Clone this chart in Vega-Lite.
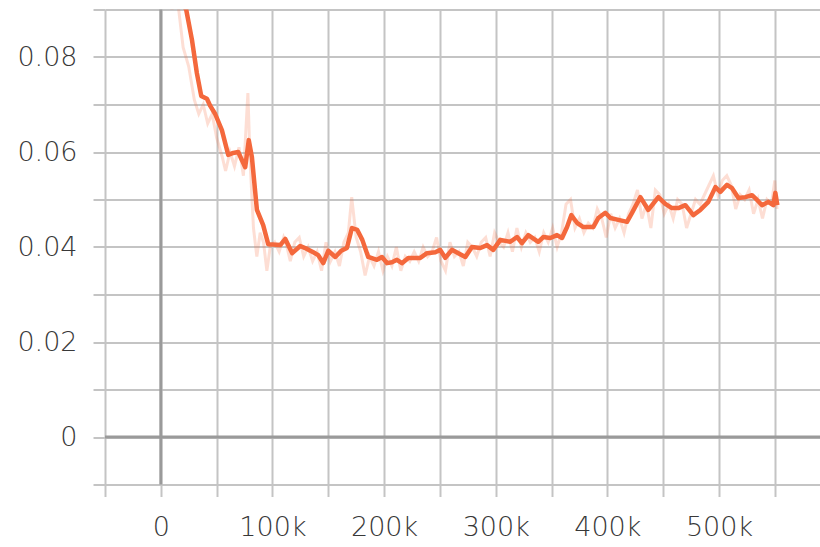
{
  "$schema": "https://vega.github.io/schema/vega-lite/v6.json",
  "autosize": {"type": "none"},
  "width": 715,
  "height": 475,
  "padding": {"left": 105, "top": 9.5, "right": 0, "bottom": 62.5},
  "background": "#ffffff",
  "config": {
    "view": {"stroke": null},
    "axis": {
      "domain": false,
      "gridColor": "#c4c4c4",
      "gridWidth": 2,
      "gridOpacity": 1,
      "tickColor": "#c4c4c4",
      "tickWidth": 2,
      "tickSize": 12,
      "labelFont": "DejaVu Sans",
      "labelFontWeight": 200,
      "labelFontSize": 27,
      "labelColor": "#383838",
      "title": null
    }
  },
  "datasets": {
    "raw": [
      {"step": 5000, "value": 0.098}, {"step": 10000, "value": 0.090}, {"step": 14000, "value": 0.094},
      {"step": 20000, "value": 0.082}, {"step": 25000, "value": 0.078}, {"step": 30000, "value": 0.071},
      {"step": 34000, "value": 0.068}, {"step": 38000, "value": 0.070}, {"step": 42000, "value": 0.066},
      {"step": 46000, "value": 0.068}, {"step": 50000, "value": 0.063}, {"step": 55000, "value": 0.059},
      {"step": 58000, "value": 0.056}, {"step": 62000, "value": 0.060}, {"step": 66000, "value": 0.057},
      {"step": 70000, "value": 0.061}, {"step": 74000, "value": 0.055}, {"step": 78000, "value": 0.0724},
      {"step": 80000, "value": 0.058}, {"step": 83000, "value": 0.044}, {"step": 86000, "value": 0.038},
      {"step": 89000, "value": 0.043}, {"step": 92000, "value": 0.041}, {"step": 95000, "value": 0.035},
      {"step": 98000, "value": 0.040}, {"step": 102000, "value": 0.041}, {"step": 106000, "value": 0.039},
      {"step": 110000, "value": 0.042}, {"step": 113000, "value": 0.040}, {"step": 116000, "value": 0.037},
      {"step": 120000, "value": 0.041}, {"step": 124000, "value": 0.042}, {"step": 128000, "value": 0.038},
      {"step": 132000, "value": 0.040}, {"step": 136000, "value": 0.037}, {"step": 140000, "value": 0.039},
      {"step": 144000, "value": 0.035}, {"step": 148000, "value": 0.041}, {"step": 152000, "value": 0.037},
      {"step": 156000, "value": 0.039}, {"step": 160000, "value": 0.036}, {"step": 164000, "value": 0.041},
      {"step": 168000, "value": 0.043}, {"step": 171000, "value": 0.0505}, {"step": 175000, "value": 0.042},
      {"step": 179000, "value": 0.039}, {"step": 183000, "value": 0.034}, {"step": 187000, "value": 0.038},
      {"step": 191000, "value": 0.036}, {"step": 195000, "value": 0.039}, {"step": 199000, "value": 0.035},
      {"step": 203000, "value": 0.038}, {"step": 207000, "value": 0.036}, {"step": 211000, "value": 0.040},
      {"step": 215000, "value": 0.035}, {"step": 219000, "value": 0.038}, {"step": 223000, "value": 0.037},
      {"step": 227000, "value": 0.039}, {"step": 231000, "value": 0.037}, {"step": 235000, "value": 0.040},
      {"step": 239000, "value": 0.038}, {"step": 243000, "value": 0.039}, {"step": 247000, "value": 0.042},
      {"step": 251000, "value": 0.037}, {"step": 255000, "value": 0.035}, {"step": 259000, "value": 0.041},
      {"step": 263000, "value": 0.038}, {"step": 267000, "value": 0.039}, {"step": 271000, "value": 0.036},
      {"step": 275000, "value": 0.041}, {"step": 279000, "value": 0.040}, {"step": 283000, "value": 0.038},
      {"step": 287000, "value": 0.041}, {"step": 291000, "value": 0.042}, {"step": 295000, "value": 0.038},
      {"step": 299000, "value": 0.043}, {"step": 303000, "value": 0.041}, {"step": 307000, "value": 0.040},
      {"step": 311000, "value": 0.043}, {"step": 315000, "value": 0.039}, {"step": 319000, "value": 0.044},
      {"step": 323000, "value": 0.040}, {"step": 327000, "value": 0.043}, {"step": 331000, "value": 0.041},
      {"step": 335000, "value": 0.042}, {"step": 339000, "value": 0.039}, {"step": 343000, "value": 0.043},
      {"step": 347000, "value": 0.041}, {"step": 351000, "value": 0.044}, {"step": 355000, "value": 0.040},
      {"step": 359000, "value": 0.043}, {"step": 363000, "value": 0.049}, {"step": 367000, "value": 0.050},
      {"step": 371000, "value": 0.044}, {"step": 375000, "value": 0.046}, {"step": 379000, "value": 0.043},
      {"step": 383000, "value": 0.045}, {"step": 387000, "value": 0.044}, {"step": 391000, "value": 0.048},
      {"step": 395000, "value": 0.046}, {"step": 399000, "value": 0.042}, {"step": 403000, "value": 0.047},
      {"step": 407000, "value": 0.044}, {"step": 411000, "value": 0.046}, {"step": 415000, "value": 0.043},
      {"step": 419000, "value": 0.047}, {"step": 423000, "value": 0.049}, {"step": 427000, "value": 0.052},
      {"step": 431000, "value": 0.046}, {"step": 435000, "value": 0.049}, {"step": 439000, "value": 0.044},
      {"step": 443000, "value": 0.052}, {"step": 447000, "value": 0.051}, {"step": 451000, "value": 0.047},
      {"step": 455000, "value": 0.049}, {"step": 459000, "value": 0.046}, {"step": 463000, "value": 0.050},
      {"step": 467000, "value": 0.049}, {"step": 471000, "value": 0.044}, {"step": 475000, "value": 0.047},
      {"step": 479000, "value": 0.050}, {"step": 483000, "value": 0.049}, {"step": 487000, "value": 0.051},
      {"step": 491000, "value": 0.053}, {"step": 495000, "value": 0.055}, {"step": 499000, "value": 0.051},
      {"step": 503000, "value": 0.054}, {"step": 507000, "value": 0.055}, {"step": 511000, "value": 0.053},
      {"step": 515000, "value": 0.048}, {"step": 519000, "value": 0.051}, {"step": 523000, "value": 0.050},
      {"step": 527000, "value": 0.052}, {"step": 531000, "value": 0.047}, {"step": 535000, "value": 0.050},
      {"step": 539000, "value": 0.046}, {"step": 543000, "value": 0.050}, {"step": 547000, "value": 0.049},
      {"step": 550000, "value": 0.054}, {"step": 552000, "value": 0.048}
    ],
    "smoothed": [
      {"step": 10200, "value": 0.0952}, {"step": 22800, "value": 0.0899}, {"step": 27900, "value": 0.0836},
      {"step": 32300, "value": 0.0766}, {"step": 36200, "value": 0.0718}, {"step": 41300, "value": 0.0712},
      {"step": 44300, "value": 0.0697}, {"step": 48700, "value": 0.0680}, {"step": 54700, "value": 0.0646},
      {"step": 60400, "value": 0.0594}, {"step": 64900, "value": 0.0598}, {"step": 69300, "value": 0.0600},
      {"step": 75600, "value": 0.0568}, {"step": 78800, "value": 0.0625}, {"step": 81600, "value": 0.0589},
      {"step": 86100, "value": 0.0478}, {"step": 91700, "value": 0.0446}, {"step": 96200, "value": 0.0406},
      {"step": 107000, "value": 0.0404}, {"step": 111500, "value": 0.0417}, {"step": 117700, "value": 0.0387},
      {"step": 124900, "value": 0.0402}, {"step": 130900, "value": 0.0396}, {"step": 136600, "value": 0.0389},
      {"step": 141000, "value": 0.0383}, {"step": 145500, "value": 0.0366}, {"step": 150000, "value": 0.0392},
      {"step": 156300, "value": 0.0379}, {"step": 161600, "value": 0.0392}, {"step": 166700, "value": 0.0398},
      {"step": 171200, "value": 0.0440}, {"step": 176000, "value": 0.0436}, {"step": 180500, "value": 0.0415},
      {"step": 185800, "value": 0.0379}, {"step": 193600, "value": 0.0373}, {"step": 198100, "value": 0.0379},
      {"step": 202600, "value": 0.0366}, {"step": 207100, "value": 0.0368}, {"step": 211500, "value": 0.0373},
      {"step": 216000, "value": 0.0366}, {"step": 221700, "value": 0.0377}, {"step": 232400, "value": 0.0377},
      {"step": 238400, "value": 0.0387}, {"step": 245900, "value": 0.0389}, {"step": 250300, "value": 0.0394},
      {"step": 254800, "value": 0.0377}, {"step": 260800, "value": 0.0394}, {"step": 266500, "value": 0.0387},
      {"step": 272800, "value": 0.0379}, {"step": 278700, "value": 0.0400}, {"step": 286200, "value": 0.0398},
      {"step": 292200, "value": 0.0404}, {"step": 297800, "value": 0.0394}, {"step": 304100, "value": 0.0415},
      {"step": 313100, "value": 0.0411}, {"step": 319100, "value": 0.0421}, {"step": 323500, "value": 0.0408},
      {"step": 329200, "value": 0.0425}, {"step": 338100, "value": 0.0411}, {"step": 342600, "value": 0.0421},
      {"step": 348900, "value": 0.0419}, {"step": 354900, "value": 0.0425}, {"step": 359400, "value": 0.0419},
      {"step": 363900, "value": 0.0442}, {"step": 367700, "value": 0.0467}, {"step": 372800, "value": 0.0451},
      {"step": 378500, "value": 0.0442}, {"step": 387400, "value": 0.0442}, {"step": 391900, "value": 0.0461},
      {"step": 398200, "value": 0.0472}, {"step": 402700, "value": 0.0461}, {"step": 409900, "value": 0.0457},
      {"step": 417600, "value": 0.0453}, {"step": 422100, "value": 0.0472}, {"step": 429600, "value": 0.0505},
      {"step": 436700, "value": 0.0478}, {"step": 445700, "value": 0.0505}, {"step": 451900, "value": 0.0491},
      {"step": 457900, "value": 0.0482}, {"step": 463600, "value": 0.0482}, {"step": 469900, "value": 0.0488},
      {"step": 477000, "value": 0.0467}, {"step": 483300, "value": 0.0478}, {"step": 490500, "value": 0.0495},
      {"step": 496800, "value": 0.0526}, {"step": 501200, "value": 0.0516}, {"step": 507200, "value": 0.0531},
      {"step": 511700, "value": 0.0524}, {"step": 517400, "value": 0.0503}, {"step": 523600, "value": 0.0505},
      {"step": 529600, "value": 0.0509}, {"step": 534100, "value": 0.0499}, {"step": 538600, "value": 0.0488},
      {"step": 544200, "value": 0.0495}, {"step": 548700, "value": 0.0488}, {"step": 550500, "value": 0.0514},
      {"step": 552300, "value": 0.0488}
    ]
  },
  "layer": [
    {
      "data": {"name": "raw"},
      "mark": {"type": "line", "color": "#f4683c", "opacity": 0.22, "strokeWidth": 3, "clip": true},
      "encoding": {
        "x": {
          "field": "step", "type": "quantitative",
          "scale": {"domain": [-50000, 590500], "nice": false, "zero": false},
          "axis": {
            "values": [-50000, 0, 50000, 100000, 150000, 200000, 250000, 300000, 350000, 400000, 450000, 500000, 550000],
            "labelExpr": "round(datum.value / 50000) % 2 == 0 ? (datum.value == 0 ? '0' : format(datum.value / 1000, 'd') + 'k') : ''",
            "labelPadding": 18,
            "labelFlush": false,
            "labelOverlap": false
          }
        },
        "y": {
          "field": "value", "type": "quantitative",
          "scale": {"domain": [-0.01, 0.09], "nice": false, "zero": false},
          "axis": {
            "values": [-0.01, 0, 0.01, 0.02, 0.03, 0.04, 0.05, 0.06, 0.07, 0.08, 0.09],
            "labelExpr": "abs(round(datum.value * 100)) % 2 == 0 ? (datum.value == 0 ? '0' : format(datum.value, '.2f')) : ''",
            "labelPadding": 16,
            "labelOverlap": false
          }
        }
      }
    },
    {
      "data": {"values": [{"zero": 0}]},
      "mark": {"type": "rule", "color": "#9a9a9a", "strokeWidth": 3},
      "encoding": {"y": {"field": "zero", "type": "quantitative"}}
    },
    {
      "data": {"values": [{"zero": 0}]},
      "mark": {"type": "rule", "color": "#9a9a9a", "strokeWidth": 3},
      "encoding": {"x": {"field": "zero", "type": "quantitative"}}
    },
    {
      "data": {"name": "smoothed"},
      "mark": {"type": "line", "color": "#f4683c", "strokeWidth": 4.5, "clip": true, "strokeJoin": "round"},
      "encoding": {
        "x": {"field": "step", "type": "quantitative"},
        "y": {"field": "value", "type": "quantitative"}
      }
    }
  ]
}
